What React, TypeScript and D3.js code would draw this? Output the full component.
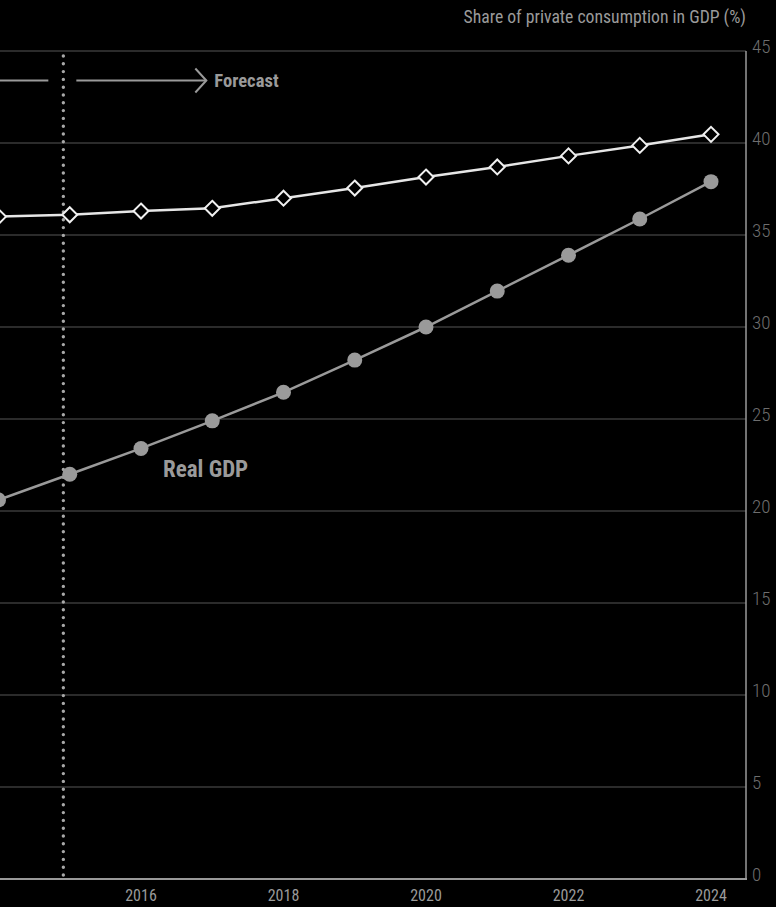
import React from "react";
import * as d3 from "d3";

const years = [2014, 2015, 2016, 2017, 2018, 2019, 2020, 2021, 2022, 2023, 2024];
const consumptionShare = [36.0, 36.1, 36.3, 36.45, 37.0, 37.55, 38.15, 38.7, 39.3, 39.87, 40.47];
const realGdp = [20.6, 22.0, 23.4, 24.9, 26.45, 28.2, 30.0, 31.95, 33.9, 35.87, 37.9];
const yTicks = [0, 5, 10, 15, 20, 25, 30, 35, 40, 45];
const xTicks = [2016, 2018, 2020, 2022, 2024];
const forecastStart = 2014.91;
const title = "Share of private consumption in GDP (%)";
const gdpLabel = "Real GDP";
const forecastLabel = "Forecast";

const W = 776;
const H = 907;
const FONT = "'Roboto Condensed', 'Liberation Sans Narrow', 'DejaVu Sans Condensed', 'Arial Narrow', Roboto, sans-serif";

export default function App() {
  const x = d3.scaleLinear().domain([2016, 2024]).range([141, 711]);
  const y = d3.scaleLinear().domain([0, 45]).range([879, 51]);
  const axisX = 746;

  const line = d3
    .line<number>()
    .x((_, i) => x(years[i]))
    .y((d) => y(d));

  const fx = x(forecastStart);
  const arrowY = 80.5;
  const arrowEnd = fx + 143;

  return (
    <svg
      width={W}
      height={H}
      style={{ position: "absolute", left: 0, top: 0, display: "block", background: "#000" }}
      fontFamily={FONT}
    >
      <rect x={0} y={0} width={W} height={H} fill="#000" />
      {/* gridlines */}
      {yTicks.filter((t) => t > 0).map((t) => (
        <line key={t} x1={0} x2={axisX} y1={y(t)} y2={y(t)} stroke="#3a3a3a" strokeWidth={1.5} />
      ))}
      {/* y tick labels */}
      {yTicks.map((t) => (
        <text key={"l" + t} x={axisX + 6} y={y(t) + 2} fill="#6e6e6e" fontSize={19} fontWeight={300}>
          {t}
        </text>
      ))}
      {/* title */}
      <text x={axisX} y={23} textAnchor="end" fill="#9a9a9a" fontSize={17.7}>
        {title}
      </text>
      {/* dotted forecast line */}
      <line
        x1={fx}
        x2={fx}
        y1={56}
        y2={y(0)}
        stroke="#a8a8a8"
        strokeWidth={3.4}
        strokeDasharray="0 7.8"
        strokeLinecap="round"
      />
      {/* forecast arrow */}
      <line x1={0} x2={fx - 15} y1={arrowY} y2={arrowY} stroke="#9a9a9a" strokeWidth={2} />
      <line x1={fx + 13} x2={arrowEnd} y1={arrowY} y2={arrowY} stroke="#9a9a9a" strokeWidth={2} />
      <polyline
        points={`${arrowEnd - 11},${arrowY - 12} ${arrowEnd},${arrowY} ${arrowEnd - 11},${arrowY + 12}`}
        fill="none"
        stroke="#9a9a9a"
        strokeWidth={2}
      />
      <text x={arrowEnd + 8} y={arrowY + 6} fill="#9a9a9a" fontSize={18.6} fontWeight={700}>
        {forecastLabel}
      </text>
      {/* baseline and axis */}
      <line x1={0} x2={axisX + 1} y1={y(0)} y2={y(0)} stroke="#9a9a9a" strokeWidth={2} />
      <line x1={axisX} x2={axisX} y1={y(45)} y2={y(0)} stroke="#9a9a9a" strokeWidth={1.5} />
      {/* x tick labels */}
      {xTicks.map((t) => (
        <text key={"x" + t} x={x(t)} y={901} textAnchor="middle" fill="#9a9a9a" fontSize={16}>
          {t}
        </text>
      ))}
      {/* real GDP */}
      <path d={line(realGdp) || ""} fill="none" stroke="#9a9a9a" strokeWidth={2.5} />
      {realGdp.map((v, i) => (
        <circle key={"g" + i} cx={x(years[i])} cy={y(v)} r={7.5} fill="#9a9a9a" />
      ))}
      <text x={163} y={477} fill="#9a9a9a" fontSize={23} fontWeight={700}>
        {gdpLabel}
      </text>
      {/* consumption share */}
      <path d={line(consumptionShare) || ""} fill="none" stroke="#e6e6e6" strokeWidth={2.5} />
      {consumptionShare.map((v, i) => {
        const cx = x(years[i]);
        const cy = y(v);
        const r = 7.5;
        return (
          <path
            key={"c" + i}
            d={`M${cx},${cy - r}L${cx + r},${cy}L${cx},${cy + r}L${cx - r},${cy}Z`}
            fill="#000"
            stroke="#f0f0f0"
            strokeWidth={2}
          />
        );
      })}
    </svg>
  );
}
